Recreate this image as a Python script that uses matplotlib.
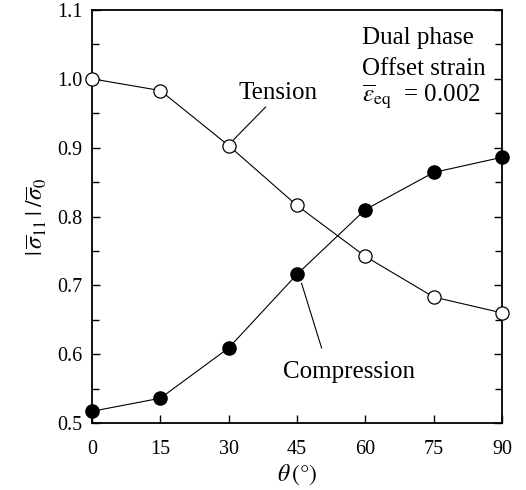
import numpy as np
import matplotlib.pyplot as plt
from matplotlib.ticker import MultipleLocator

theta = [0, 15, 30, 45, 60, 75, 90]
tension = [1.000, 0.983, 0.903, 0.816, 0.742, 0.683, 0.660]
compression = [0.517, 0.536, 0.609, 0.716, 0.810, 0.864, 0.886]

plt.rcParams['font.family'] = ['Liberation Serif', 'DejaVu Serif']
plt.rcParams['mathtext.fontset'] = 'stix'

def main():
    fig = plt.figure(figsize=(5.26, 4.90), dpi=100)
    ax = fig.add_axes([92 / 526, 1 - 423 / 490, 410 / 526, 413 / 490])

    ax.plot(theta, tension, '-o', color='black', lw=0.8, ms=9.5,
            mfc='white', mec='black', mew=0.9, clip_on=False, zorder=3)
    ax.plot(theta, compression, '-o', color='black', lw=0.8, ms=9.5,
            mfc='black', mec='black', clip_on=False, zorder=3)

    # leader lines and labels
    ax.plot([31.0, 38.1], [0.911, 0.959], color='black', lw=0.8)
    ax.text(40.8, 0.979, 'Tension', fontsize=18, ha='center', va='center')
    ax.plot([46.0, 50.4], [0.703, 0.609], color='black', lw=0.8)
    ax.text(56.4, 0.574, 'Compression', fontsize=18, ha='center', va='center')

    ax.text(59.3, 1.059, 'Dual phase', fontsize=18, ha='left', va='center')
    ax.text(59.3, 1.014, 'Offset strain', fontsize=18, ha='left', va='center')
    ax.text(59.3, 0.974, r'$\overline{\varepsilon}_{\mathrm{eq}}$  = 0.002',
            fontsize=18, ha='left', va='center')

    ax.set_xlim(0, 90)
    ax.set_ylim(0.5, 1.1)
    ax.xaxis.set_major_locator(MultipleLocator(15))
    ax.yaxis.set_major_locator(MultipleLocator(0.1))
    ax.yaxis.set_minor_locator(MultipleLocator(0.05))
    ax.yaxis.set_major_formatter(plt.FormatStrFormatter('%.1f'))
    ax.tick_params(axis='both', which='both', direction='in', labelsize=14.5)
    ax.tick_params(axis='y', which='both', right=True, pad=7)
    ax.tick_params(which='major', length=6, width=1)
    ax.tick_params(which='minor', length=5, width=1)
    ax.tick_params(axis='x', pad=12)
    for s in ax.spines.values():
        s.set_linewidth(1.3)

    ax.set_xlabel(r'$\theta\,(°)$', fontsize=17, labelpad=3)
    ax.set_ylabel(r'$|\,\overline{\sigma}_{11}\,|\;/\overline{\sigma}_0$', fontsize=17, labelpad=6)

    fig.savefig('out.png', dpi=100)

if __name__ == "__main__":
    main()
